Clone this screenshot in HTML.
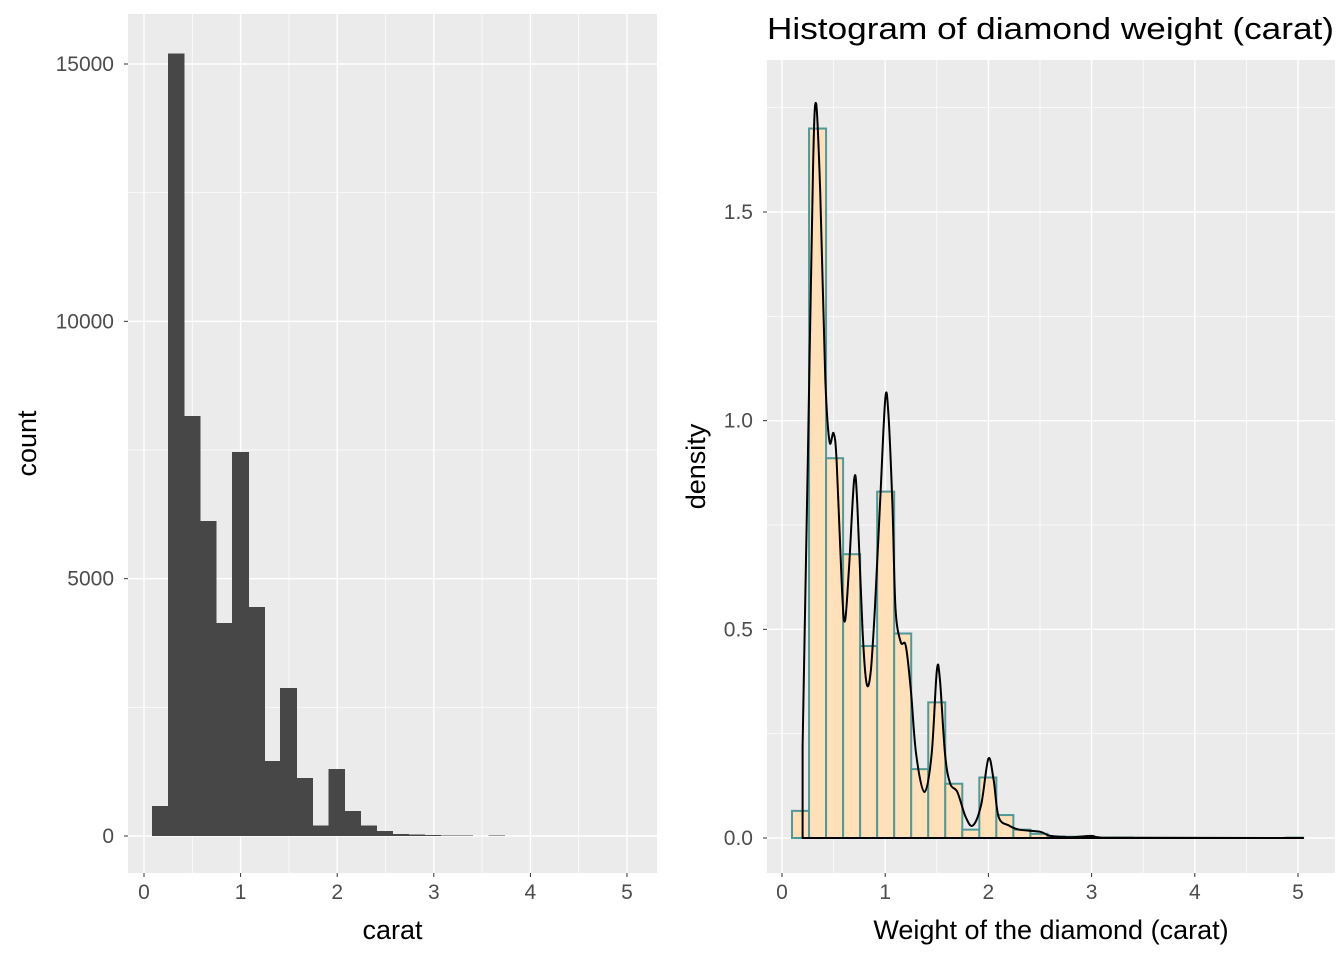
<!DOCTYPE html>
<html><head><meta charset="utf-8"><style>
body{margin:0;background:#fff;font-family:"Liberation Sans",Arial,sans-serif}
svg text{font-family:"Liberation Sans",Arial,sans-serif}
</style></head><body>
<svg id="c" width="1344" height="960" xmlns="http://www.w3.org/2000/svg"></svg>
<script>
// Left histogram data
const leftBinStart = 0.083;
const leftBinWidth = 0.1659;
const leftCounts = [580,15200,8160,6120,4140,7460,4450,1460,2880,1130,200,1300,490,200,100,40,30,15,10,5,3,5,2,2,1,1,1,1,1,1];
const leftXTicks = [0,1,2,3,4,5];
const leftYTicks = [0,5000,10000,15000];
// Right histogram data
const rightBinStart = 0.097;
const rightBinWidth = 0.165;
const rightDensity = [0.065,1.70,0.91,0.68,0.46,0.83,0.49,0.165,0.325,0.13,0.02,0.145,0.055,0.02,0.01,0.004,0.003,0.002,0.001,0.001,0,0,0,0,0,0,0,0,0,0.001];
const rightXTicks = [0,1,2,3,4,5];
const rightYTicks = [0,0.5,1.0,1.5];
const rightYLabels = ["0.0","0.5","1.0","1.5"];
const densX = [0.2,0.2,0.25,0.3,0.33,0.37,0.42,0.46,0.5,0.53,0.58,0.61,0.65,0.7,0.73,0.78,0.82,0.86,0.9,0.95,1.0,1.03,1.07,1.1,1.15,1.2,1.25,1.3,1.38,1.45,1.5,1.53,1.58,1.63,1.7,1.78,1.85,1.93,2.0,2.05,2.1,2.2,2.3,2.5,2.6,2.8,3.0,3.1,5.05];
const densY = [0,0.22,0.9,1.6,1.76,1.55,1.1,0.95,0.97,0.9,0.6,0.52,0.65,0.86,0.8,0.5,0.37,0.4,0.55,0.8,1.05,1.02,0.8,0.55,0.47,0.46,0.35,0.2,0.11,0.2,0.4,0.38,0.2,0.13,0.11,0.05,0.03,0.08,0.19,0.14,0.05,0.03,0.02,0.015,0.005,0.002,0.005,0.001,0];

const svg=document.getElementById('c');
const NS='http://www.w3.org/2000/svg';
function mk(t,a,p){const e=document.createElementNS(NS,t);for(const k in a)e.setAttribute(k,a[k]);(p||svg).appendChild(e);return e;}

function panel(o){
  const g=mk('g',{});
  
  
  const bg=mk('rect',{x:o.x0,y:o.y0,width:o.x1-o.x0,height:o.y1-o.y0,fill:'#ebebeb'},g);
  
  
  const sx=v=>o.px0+(v-0)*(o.px5-o.px0)/5;
  const sy=v=>o.py0-(v)*(o.py0-o.pyT)/o.yT;
  for(let i=0;i<o.xTicks.length-1;i++){const v=(o.xTicks[i]+o.xTicks[i+1])/2;mk('line',{x1:sx(v),x2:sx(v),y1:o.y0,y2:o.y1,stroke:'#fff','stroke-width':0.7},g);}
  for(let i=0;i<o.yTicks.length;i++){const v=o.yTicks[i]+(o.yTicks[1]-o.yTicks[0])/2;if(sy(v)>o.y0)mk('line',{x1:o.x0,x2:o.x1,y1:sy(v),y2:sy(v),stroke:'#fff','stroke-width':0.7},g);}
  o.xTicks.forEach(v=>{mk('line',{x1:sx(v),x2:sx(v),y1:o.y0,y2:o.y1,stroke:'#fff','stroke-width':1.4},g);
    mk('line',{x1:sx(v),x2:sx(v),y1:o.y1,y2:o.y1+4,stroke:'#333','stroke-width':1},g);
    const t=mk('text',{x:sx(v),y:o.y1+26,'text-anchor':'middle','font-size':21,fill:'#4d4d4d'},g);t.textContent=v;
    });
  o.yTicks.forEach((v,i)=>{mk('line',{x1:o.x0,x2:o.x1,y1:sy(v),y2:sy(v),stroke:'#fff','stroke-width':1.4},g);
    mk('line',{x1:o.x0-4,x2:o.x0,y1:sy(v),y2:sy(v),stroke:'#333','stroke-width':1},g);
    const t=mk('text',{x:o.x0-14,y:sy(v)+7,'text-anchor':'end','font-size':21,fill:'#4d4d4d'},g);t.textContent=o.yLabels?o.yLabels[i]:v;
    });
  o.vals.forEach((v,i)=>{const a=o.bs+i*o.bw;const x=sx(a),w=sx(a+o.bw)-x;
    if(v<=0&&o.stroke)return;
    const r=mk('rect',{x:x,y:sy(v),width:w+(o.stroke?0:0.6),height:Math.max(0,o.py0-sy(v)),fill:o.fill,'shape-rendering':'crispEdges'},g);
    if(o.stroke){r.setAttribute('stroke',o.stroke);r.setAttribute('stroke-width',2);r.setAttribute('shape-rendering','auto');}
    });
  const xt=mk('text',{x:(o.x0+o.x1)/2,y:o.y1+66,'text-anchor':'middle','font-size':27,fill:'#000'},g);xt.textContent=o.xTitle;
  
  const cy=(o.y0+o.y1)/2;
  const yt=mk('text',{x:o.x0-o.yTitleOff,y:cy,'text-anchor':'middle','font-size':27,fill:'#000',transform:`rotate(-90 ${o.x0-o.yTitleOff} ${cy})`},g);yt.textContent=o.yTitle;
  
  return {sx,sy,g};
}
panel({name:'count-histogram-panel',x0:128,x1:657,y0:14,y1:873,px0:144,px5:627,py0:836,pyT:64,yT:15000,
  xTicks:leftXTicks,yTicks:leftYTicks,vals:leftCounts,bs:leftBinStart,bw:leftBinWidth,fill:'#474747',
  xTitle:'carat',yTitle:'count',yTitleOff:92});
const R=panel({name:'density-histogram-panel',x0:767,x1:1335,y0:60,y1:873,px0:782,px5:1298,py0:838,pyT:212,yT:1.5,
  xTicks:rightXTicks,yTicks:rightYTicks,yLabels:rightYLabels,vals:rightDensity,bs:rightBinStart,bw:rightBinWidth,fill:'#ffe0b8',stroke:'#4f9a98',
  xTitle:'Weight of the diamond (carat)',yTitle:'density',yTitleOff:62});
const pts=densX.map((x,i)=>[R.sx(x),R.sy(densY[i])]);
let d='M'+pts[0][0].toFixed(1)+','+pts[0][1].toFixed(1)+'L'+pts[1][0].toFixed(1)+','+pts[1][1].toFixed(1);
for(let i=1;i<pts.length-1;i++){
  const p0=pts[i-1],p1=pts[i],p2=pts[i+1],p3=pts[Math.min(i+2,pts.length-1)];
  const c1=[p1[0]+(p2[0]-p0[0])/6,p1[1]+(p2[1]-p0[1])/6];
  const c2=[p2[0]-(p3[0]-p1[0])/6,p2[1]-(p3[1]-p1[1])/6];
  c1[0]=Math.min(Math.max(c1[0],p1[0]),p2[0]);c2[0]=Math.min(Math.max(c2[0],p1[0]),p2[0]);
  d+='C'+c1.map(v=>v.toFixed(1)).join(',')+' '+c2.map(v=>v.toFixed(1)).join(',')+' '+p2[0].toFixed(1)+','+p2[1].toFixed(1);
}
d+='Z';
const p=mk('path',{d:d,fill:'none',stroke:'#000','stroke-width':2,'stroke-linejoin':'round'},R.g);

const t=mk('text',{x:767,y:39,'font-size':31,fill:'#000',textLength:567,lengthAdjust:'spacingAndGlyphs'});t.textContent='Histogram of diamond weight (carat)';

</script>
</body></html>
